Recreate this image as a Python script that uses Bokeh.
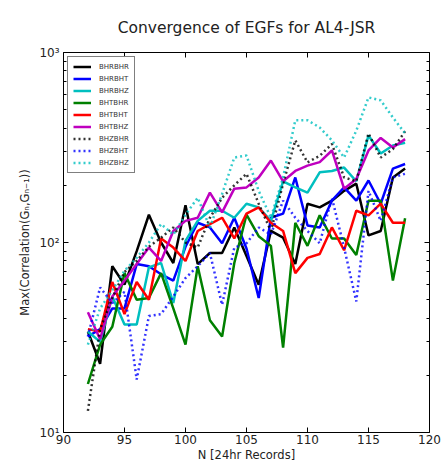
from bokeh.plotting import figure
from bokeh.models import (Range1d, FixedTicker, LinearAxis, LogAxis, Legend, LegendItem, Title)
from bokeh.embed import file_html
from bokeh.resources import INLINE

N = list(range(92, 119))
BHRBHR = [34, 23, 75, 60, 90, 140, 100, 78, 157, 77, 88, 88, 120, 85, 60, 115, 106, 77, 160, 153, 166, 187, 204, 109, 115, 220, 245]
BHRBHT = [32, 35, 45, 45, 77, 75, 68, 63, 95, 127, 120, 99, 135, 93, 51, 135, 142, 220, 123, 120, 166, 195, 166, 212, 160, 245, 259]
BHRBHZ = [34, 30, 52, 37, 37, 74, 78, 48, 102, 130, 147, 147, 135, 160, 153, 130, 210, 195, 183, 234, 238, 248, 210, 366, 294, 324, 335]
BHTBHR = [18, 29, 36, 69, 50, 51, 69, 45, 29, 75, 39, 32, 78, 140, 108, 96, 28, 127, 96, 139, 105, 105, 86, 166, 166, 63, 134]
BHTBHT = [35, 34, 62, 42, 62, 50, 105, 94, 80, 115, 125, 135, 105, 142, 153, 127, 115, 69, 83, 87, 120, 91, 147, 139, 160, 127, 127]
BHTBHZ = [43, 31, 52, 63, 77, 94, 80, 115, 130, 135, 183, 144, 192, 195, 220, 270, 210, 238, 254, 265, 305, 192, 216, 305, 355, 316, 350]
BHZBHR = [13, 35, 51, 70, 80, 95, 106, 120, 100, 94, 135, 172, 200, 230, 160, 115, 204, 345, 264, 286, 330, 220, 210, 375, 280, 310, 385]
BHZBHT = [32, 58, 48, 55, 19, 41, 42, 52, 65, 75, 88, 47, 94, 99, 120, 110, 166, 135, 115, 99, 172, 94, 49, 187, 130, 220, 230]
BHZBHZ = [29, 45, 56, 71, 83, 100, 125, 110, 140, 172, 120, 180, 280, 287, 187, 135, 220, 440, 440, 403, 345, 280, 388, 580, 560, 455, 375]

series = [
    ("BHRBHR", BHRBHR, "#000000", "solid"),
    ("BHRBHT", BHRBHT, "#0000ff", "solid"),
    ("BHRBHZ", BHRBHZ, "#00bfbf", "solid"),
    ("BHTBHR", BHTBHR, "#008000", "solid"),
    ("BHTBHT", BHTBHT, "#ff0000", "solid"),
    ("BHTBHZ", BHTBHZ, "#bf00bf", "solid"),
    ("BHZBHR", BHZBHR, "#000000", "dotted"),
    ("BHZBHT", BHZBHT, "#0000ff", "dotted"),
    ("BHZBHZ", BHZBHZ, "#00bfbf", "dotted"),
]

FONT = "DejaVu Sans"

p = figure(width=443, height=466, y_axis_type="log",
           x_range=Range1d(90, 120), y_range=Range1d(10, 1000),
           output_backend="svg", toolbar_location=None,
           min_border_left=63, min_border_right=14, min_border_top=52, min_border_bottom=34)
p.title = Title(text="Convergence of EGFs for AL4-JSR", align="center",
                text_font=FONT, text_font_size="15.5px", text_font_style="normal",
                text_color="#222222", standoff=31)
p.grid.visible = False
p.outline_line_color = "black"
p.outline_line_width = 1

xticks = [90, 95, 100, 105, 110, 115, 120]
yticks = [10, 100, 1000]
xt = FixedTicker(ticks=xticks)
minor = [m * d for d in (10, 100) for m in range(2, 10)]
yt = FixedTicker(ticks=yticks, minor_ticks=minor)

xa = p.xaxis[0]
xa.ticker = xt
xa.axis_label = "N [24hr Records]"
ya = p.yaxis[0]
ya.ticker = yt
ya.major_label_overrides = {10: "10¹", 100: "10²", 1000: "10³"}
ya.axis_label = "Max(Correlation(Gₙ,Gₙ₋₁))"

for ax in (xa, ya):
    ax.major_tick_in = 5
    ax.major_tick_out = 0
    ax.minor_tick_in = 3
    ax.minor_tick_out = 0
    ax.axis_line_color = None
    ax.major_label_text_font = FONT
    ax.major_label_text_font_size = "12px"
    ax.major_label_text_color = "#222222"
    ax.axis_label_text_font = FONT
    ax.axis_label_text_font_size = "11.5px"
    ax.axis_label_text_font_style = "normal"
    ax.axis_label_text_color = "#222222"
    ax.major_label_standoff = 4
    ax.axis_label_standoff = 4
xa.minor_tick_in = 0
xa.major_label_standoff = 2
xa.axis_label_standoff = 1

top = LinearAxis(ticker=xt, major_tick_in=5, major_tick_out=0, minor_tick_in=0, minor_tick_out=0,
                 axis_line_color=None, major_label_standoff=0,
                 major_label_overrides={t: "" for t in xticks})
right = LogAxis(ticker=yt, major_tick_in=5, major_tick_out=0, minor_tick_in=3, minor_tick_out=0,
                axis_line_color=None, major_label_standoff=0,
                major_label_overrides={t: "" for t in yticks})
p.add_layout(top, "above")
p.add_layout(right, "right")

items = []
for name, vals, color, dash in series:
    if dash == "solid":
        r = p.line(N, vals, line_color=color, line_width=2.5)
    else:
        r = p.line(N, vals, line_color=color, line_width=2.5, line_dash="2 3", line_alpha=0.8)
    items.append(LegendItem(label=name, renderers=[r]))

leg = Legend(items=items, location="top_left",
             label_text_font=FONT, label_text_font_size="7px", label_text_color="#333333",
             label_height=9, glyph_height=9, glyph_width=18, spacing=3,
             padding=5, margin=4, border_line_color="black", border_line_width=1,
             label_standoff=8)
p.add_layout(leg)

open("out.html", "w").write(file_html(p, INLINE))
